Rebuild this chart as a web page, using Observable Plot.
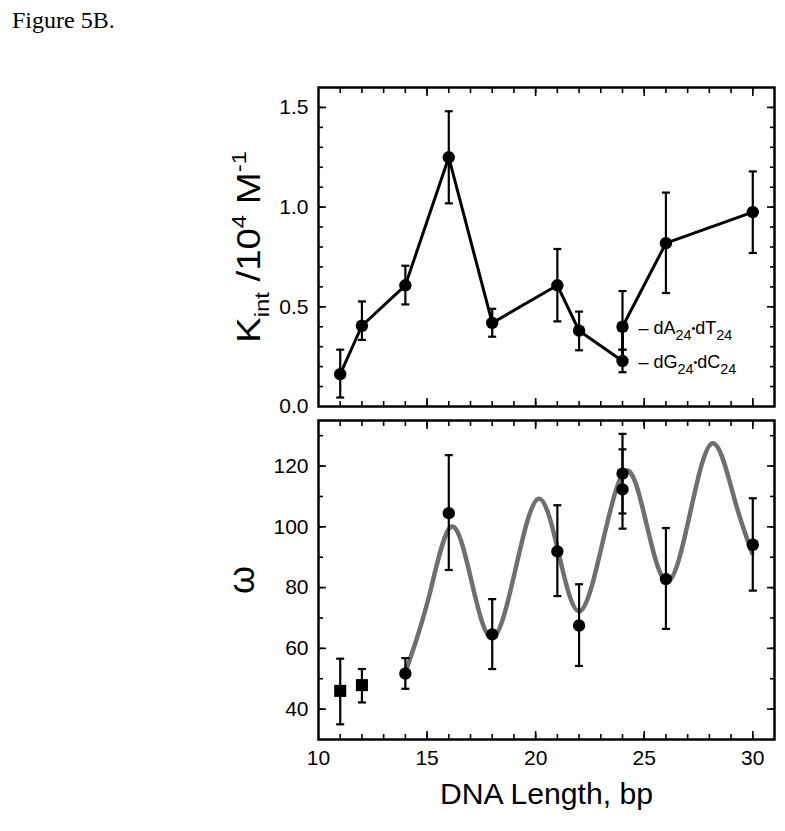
<!DOCTYPE html>
<html><head><meta charset="utf-8">
<script src="https://cdn.jsdelivr.net/npm/d3@7"></script>
<script src="https://cdn.jsdelivr.net/npm/@observablehq/plot@0.6"></script>
<style>
body{margin:0;background:#fff;}
#wrap{position:relative;width:785px;height:831px;background:#fff;}
#fig{position:absolute;left:12px;top:7px;z-index:3;font-family:"Liberation Serif","Times New Roman",serif;font-size:24px;color:#000;line-height:1.15;}
#top{position:absolute;left:0;top:0;z-index:2;}
#bot{position:absolute;left:0;top:410px;z-index:1;}
</style></head><body>
<div id="wrap"><div id="fig">Figure 5B.</div><div id="top"></div><div id="bot"></div></div>
<script>
// ---------- data: top panel (line order: ..., 22, 24 dG·dC, 24 dA·dT, 26, 30) ----------
const topLengths = [11, 12, 14, 16, 18, 21, 22, 24, 24, 26, 30];
const kint   = [0.162, 0.405, 0.608, 1.25, 0.419, 0.608, 0.38, 0.228, 0.40, 0.819, 0.975];
const kintLo = [0.045, 0.334, 0.512, 1.019, 0.35, 0.427, 0.282, 0.172, 0.285, 0.569, 0.77];
const kintHi = [0.285, 0.527, 0.706, 1.481, 0.49, 0.79, 0.476, 0.285, 0.579, 1.073, 1.179];
const annIndex = [8, 7];
const annLabels = ["– dA_{24}~{•}dT_{24}", "– dG_{24}~{•}dC_{24}"];

// ---------- data: bottom panel ----------
const circLengths = [14, 16, 18, 21, 22, 24, 24, 26, 30];
const omega   = [51.7, 104.5, 64.6, 91.9, 67.5, 117.5, 112.3, 82.8, 94.1];
const omegaLo = [46.7, 85.8, 53.2, 77.2, 54.2, 104.4, 99.4, 66.4, 79.0];
const omegaHi = [56.8, 123.6, 76.2, 107.1, 81.1, 130.6, 125.5, 99.6, 109.4];
const sqLengths = [11, 12];
const sqOmega   = [46.0, 47.9];
const sqLo      = [35.0, 42.2];
const sqHi      = [56.6, 53.2];
// fitted curve at peaks, troughs and mid-points
const fitX = [14.07, 15.08, 16.1, 17.06, 18.03, 19.08, 20.12, 21.08, 22.04, 23.1, 24.17, 25.13, 26.1, 27.12, 28.15, 29.15, 29.97];
const fitY = [53.5, 76.8, 100.0, 81.7, 63.4, 86.3, 109.2, 90.7, 72.2, 95.3, 118.5, 100.2, 82.0, 104.7, 127.5, 109.3, 91.4];

// ---------- ticks ----------
const xMajor = [15, 20, 25, 30];
const xMinor = d3.range(11, 31);
const xLabels = [10, 15, 20, 25, 30];
const kMajor = [0.5, 1.0, 1.5];
const kMinor = d3.range(1, 16).map(d => d / 10);
const kLabels = [0.0, 0.5, 1.0, 1.5];
const wMajor = [40, 60, 80, 100, 120];
const wMinor = d3.range(40, 131, 10);
const wLabels = [40, 60, 80, 100, 120];

const FONT = "Liberation Sans, Arial, Helvetica, sans-serif";
const rows = (xs, ys, lo, hi) => xs.map((x, i) => ({x, y: ys[i], lo: lo[i], hi: hi[i]}));
const topRows = rows(topLengths, kint, kintLo, kintHi);
const circRows = rows(circLengths, omega, omegaLo, omegaHi);
const sqRows = rows(sqLengths, sqOmega, sqLo, sqHi);
const fitRows = fitX.map((x, i) => ({x, y: fitY[i]}));
const annRows = annIndex.map((k, i) => ({x: topLengths[k], y: kint[k], label: annLabels[i]}));

const capSymbol = {draw(ctx, size) { const w = Math.sqrt(size / Math.PI); ctx.moveTo(-w, 0); ctx.lineTo(w, 0); }};

// rich text: _{sub}, ^{sup}, ~{small raised}
function rich(fs, {textLength, subScale = 0.64, subShift = 0.3} = {}) {
  return function(index, scales, values, dims, context, next) {
    const g = next(index, scales, values, dims, context);
    d3.select(g).selectAll("text").each(function() {
      const t = d3.select(this);
      const src = this.textContent;
      t.text(null);
      const tokens = src.split(/([_^~]\{[^}]*\})/).filter(s => s.length);
      let shift = 0;
      for (const tok of tokens) {
        let mode = "", s = tok;
        if (/^[_^~]\{/.test(tok)) { mode = tok[0]; s = tok.slice(2, -1); }
        const target = mode === "_" ? subShift * fs : mode === "^" ? -0.42 * fs : mode === "~" ? -0.12 * fs : 0;
        const ts = t.append("tspan").text(s);
        if (target !== shift) { ts.attr("dy", target - shift); shift = target; }
        if (mode === "_" || mode === "^") ts.attr("font-size", subScale * fs);
        if (mode === "~") ts.attr("font-size", 0.6 * fs);
      }
      if (textLength) {
        t.attr("text-anchor", "start").attr("x", -textLength / 2)
         .attr("textLength", textLength).attr("lengthAdjust", "spacingAndGlyphs");
      }
    });
    return g;
  };
}

function inwardTicks(xMaj, xMin, yMaj, yMin) {
  const M = 8, m = 5, sw = 1.6;
  const o = {fill: "none", label: null, strokeWidth: sw, stroke: "black"};
  return [
    Plot.axisX(xMaj, {...o, anchor: "bottom", tickSize: M, dy: -M}),
    Plot.axisX(xMin, {...o, anchor: "bottom", tickSize: m, dy: -m}),
    Plot.axisX(xMaj, {...o, anchor: "top", tickSize: M, dy: M}),
    Plot.axisX(xMin, {...o, anchor: "top", tickSize: m, dy: m}),
    Plot.axisY(yMaj, {...o, anchor: "left", tickSize: M, dx: M}),
    Plot.axisY(yMin, {...o, anchor: "left", tickSize: m, dx: m}),
    Plot.axisY(yMaj, {...o, anchor: "right", tickSize: M, dx: -M}),
    Plot.axisY(yMin, {...o, anchor: "right", tickSize: m, dx: -m})
  ];
}

const common = {
  width: 785, marginLeft: 318, marginRight: 11,
  style: {fontFamily: FONT, fontSize: "21px", color: "black", background: "transparent", overflow: "visible"}
};

const topPlot = Plot.plot({
  ...common,
  height: 410, marginTop: 87, marginBottom: 4,
  x: {domain: [10, 31], axis: null},
  y: {domain: [0, 1.6], axis: null},
  marks: [
    Plot.line(topRows, {x: "x", y: "y", stroke: "black", strokeWidth: 3}),
    Plot.ruleX(topRows, {x: "x", y1: "lo", y2: "hi", stroke: "black", strokeWidth: 2.2}),
    Plot.dot(topRows, {x: "x", y: "lo", symbol: capSymbol, r: 4, stroke: "black", strokeWidth: 2.2}),
    Plot.dot(topRows, {x: "x", y: "hi", symbol: capSymbol, r: 4, stroke: "black", strokeWidth: 2.2}),
    Plot.dot(topRows, {x: "x", y: "y", r: 6.2, fill: "black"}),
    Plot.text(annRows, {x: "x", y: "y", text: "label", textAnchor: "start", lineAnchor: "bottom", dx: 16, dy: 7, fontSize: 18, fill: "black", render: rich(18, {subScale: 0.8, subShift: 0.32})}),
    ...inwardTicks(xMajor, xMinor, kMajor, kMinor),
    Plot.axisY(kLabels, {anchor: "left", tickSize: 0, tickPadding: 10, fontSize: 21, label: null, tickFormat: d3.format(".1f")}),
    Plot.frame({stroke: "black", strokeWidth: 2.5}),
    Plot.text(["K_{int} /10^{4} M^{-1}"], {text: d => d, frameAnchor: "left", textAnchor: "middle", rotate: -90, dx: -59, lineAnchor: "bottom", fontSize: 33, fill: "black", render: rich(33, {textLength: 192, subScale: 0.62})})
  ]
});
document.getElementById("top").append(topPlot);

const botPlot = Plot.plot({
  ...common,
  height: 421, marginTop: 10, marginBottom: 92,
  x: {domain: [10, 31], axis: null},
  y: {domain: [30, 135], axis: null},
  marks: [
    Plot.line(fitRows, {x: "x", y: "y", curve: "natural", stroke: "#6f6f6f", strokeWidth: 4.5}),
    Plot.ruleX([...sqRows, ...circRows], {x: "x", y1: "lo", y2: "hi", stroke: "black", strokeWidth: 2.2}),
    Plot.dot([...sqRows, ...circRows], {x: "x", y: "lo", symbol: capSymbol, r: 4, stroke: "black", strokeWidth: 2.2}),
    Plot.dot([...sqRows, ...circRows], {x: "x", y: "hi", symbol: capSymbol, r: 4, stroke: "black", strokeWidth: 2.2}),
    Plot.dot(circRows, {x: "x", y: "y", r: 6.2, fill: "black"}),
    Plot.dot(sqRows, {x: "x", y: "y", symbol: "square", r: 6.8, fill: "black"}),
    ...inwardTicks(xMajor, xMinor, wMajor, wMinor),
    Plot.axisY(wLabels, {anchor: "left", tickSize: 0, tickPadding: 10, fontSize: 21, label: null}),
    Plot.axisX(xLabels, {anchor: "bottom", tickSize: 0, tickPadding: 11, fontSize: 21, label: null}),
    Plot.frame({stroke: "black", strokeWidth: 2.5}),
    Plot.text(["ω"], {text: d => d, frameAnchor: "left", textAnchor: "middle", rotate: -90, dx: -65, lineAnchor: "bottom", fontSize: 36, fill: "black"}),
    Plot.text(["DNA Length, bp"], {text: d => d, frameAnchor: "bottom", dy: 64, lineAnchor: "bottom", fontSize: 29, fill: "black", render: rich(29, {textLength: 213})})
  ]
});
document.getElementById("bot").append(botPlot);
</script>
</body></html>
